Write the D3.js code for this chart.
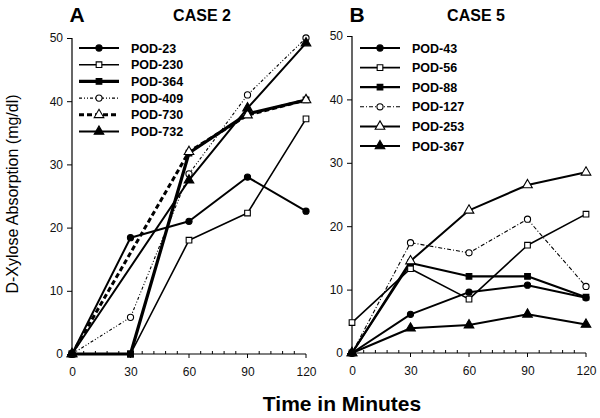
<!DOCTYPE html>
<html><head><meta charset="utf-8">
<script src="https://cdn.jsdelivr.net/npm/d3@7"></script>
<style>body{margin:0;background:#fff}svg{display:block}text{font-family:"Liberation Sans",Arial,Helvetica,sans-serif}</style>
</head><body>
<svg id="c" width="600" height="418"></svg>
<script>
const times = [0, 30, 60, 90, 120];
const yTicks = [0, 10, 20, 30, 40, 50];

// Panel A (CASE 2)
const namesA = ["POD-23", "POD-230", "POD-364", "POD-409", "POD-730", "POD-732"];
const pod23  = [0, 18.4, 21.0, 28.0, 22.6];
const pod230 = [0, 0, 18.0, 22.3, 37.2];
const pod364 = [0, 0, 31.8, 38.0, 40.2];
const pod409 = [0, 5.8, 28.5, 41.0, 50.0];
const pod730 = [0, null, 32.0, 37.8, 40.2];
const pod732 = [0, null, 27.5, 38.9, 49.2];

// Panel B (CASE 5)
const namesB = ["POD-43", "POD-56", "POD-88", "POD-127", "POD-253", "POD-367"];
const pod43  = [0, 6.1, 9.6, 10.7, 8.7];
const pod56  = [4.8, 13.3, 8.5, 17.0, 21.9];
const pod88  = [0, 14.2, 12.1, 12.1, 8.8];
const pod127 = [0, 17.4, 15.8, 21.1, 10.5];
const pod253 = [0, 14.5, 22.5, 26.5, 28.5];
const pod367 = [0, 3.9, 4.4, 6.1, 4.5];

const styleA = [
  {w:2, dash:null, m:"circle", fill:true},
  {w:1.6, dash:null, m:"square", fill:false},
  {w:3.2, dash:null, m:"square", fill:true},
  {w:1.1, dash:"3,2,1,2,1,2", m:"circle", fill:false},
  {w:3, dash:"5,3", m:"triangle", fill:false},
  {w:2, dash:null, m:"triangle", fill:true}
];
const styleB = [
  {w:2, dash:null, m:"circle", fill:true},
  {w:1.6, dash:null, m:"square", fill:false},
  {w:2.2, dash:null, m:"square", fill:true},
  {w:1.1, dash:"4,2,1,2", m:"circle", fill:false},
  {w:2, dash:null, m:"triangle", fill:false},
  {w:2, dash:null, m:"triangle", fill:true}
];

const svg = d3.select("#c");
const font = '"Liberation Sans",Arial,Helvetica,sans-serif';

function marker(g, kind, fill, x, y) {
  const sym = {circle: d3.symbolCircle, square: d3.symbolSquare, triangle: d3.symbolTriangle}[kind];
  const size = {circle: 30, square: 32, triangle: 40}[kind];
  g.append("path")
    .attr("d", d3.symbol().type(sym).size(size)())
    .attr("transform", `translate(${x},${y})`)
    .attr("fill", fill ? "#000" : "#fff")
    .attr("stroke", "#000").attr("stroke-width", 1.1);
}

function panel(cfg) {
  const x = d3.scaleLinear().domain([0, 120]).range([cfg.x0, cfg.x1]);
  const y = d3.scaleLinear().domain([0, 50]).range([cfg.y0, cfg.y1]);
  const g = svg.append("g");

  // y axis
  const ya = g.append("g").attr("transform", `translate(${cfg.x0},0)`)
    .call(d3.axisLeft(y).tickValues(yTicks).tickSize(5).tickPadding(4));
  ya.select(".domain").attr("stroke-width", 1.2).attr("d", `M-0,${cfg.y0}V${cfg.y1}`);
  ya.selectAll("text").attr("font-size", 12).attr("font-family", font).attr("fill", "#111");
  // x axis
  const xa = g.append("g").attr("transform", `translate(0,${cfg.y0})`)
    .call(d3.axisBottom(x).tickValues(times).tickSize(0).tickPadding(13));
  xa.select(".domain").attr("stroke-width", 1.2).attr("d", `M${cfg.x0},0H${cfg.x1}`);
  xa.selectAll("text").attr("font-size", 12).attr("font-family", font).attr("fill", "#111");
  // minor ticks on x axis (upward)
  const minor = d3.range(0, 121, 6);
  g.append("g").selectAll("line").data(minor).join("line")
    .attr("x1", d => x(d)).attr("x2", d => x(d))
    .attr("y1", cfg.y0).attr("y2", d => d % 30 === 0 ? cfg.y0 + 4 : cfg.y0 - 3)
    .attr("stroke", "#000").attr("stroke-width", 1);

  // titles
  g.append("text").attr("x", cfg.x0 + 5).attr("y", 22).attr("text-anchor", "middle")
    .attr("font-size", 21).attr("font-weight", "bold").text(cfg.letter);
  g.append("text").attr("x", cfg.titleX).attr("y", 21).attr("text-anchor", "middle")
    .attr("font-size", 16).attr("font-weight", "bold").text(cfg.title);

  // series
  const line = d3.line().x(d => x(d[0])).y(d => y(d[1]));
  cfg.series.forEach((vals, i) => {
    const st = cfg.styles[i];
    const pts = times.map((t, j) => [t, vals[j]]).filter(p => p[1] !== null);
    g.append("path").datum(pts).attr("d", line)
      .attr("fill", "none").attr("stroke", "#000").attr("stroke-width", st.w)
      .attr("stroke-dasharray", st.dash).attr("stroke-linejoin", "round");
  });
  cfg.series.forEach((vals, i) => {
    const st = cfg.styles[i];
    times.forEach((t, j) => {
      if (vals[j] === null) return;
      marker(g, st.m, st.fill, x(t), y(vals[j]));
    });
  });

  // legend
  cfg.names.forEach((n, i) => {
    const st = cfg.styles[i];
    const ly = cfg.legY + i * cfg.legStep;
    g.append("line").attr("x1", cfg.legX).attr("x2", cfg.legX + 40)
      .attr("y1", ly).attr("y2", ly).attr("stroke", "#000")
      .attr("stroke-width", st.w).attr("stroke-dasharray", st.dash);
    marker(g, st.m, st.fill, cfg.legX + 20, ly);
    g.append("text").attr("x", cfg.legX + 52).attr("y", ly + 4.5)
      .attr("font-size", 12.5).attr("font-weight", "bold").text(n);
  });
}

panel({x0: 72, x1: 306, y0: 354, y1: 38, letter: "A", title: "CASE 2", titleX: 202,
  names: namesA, series: [pod23, pod230, pod364, pod409, pod730, pod732], styles: styleA,
  legX: 79, legY: 48, legStep: 16.7});
panel({x0: 352, x1: 586, y0: 353, y1: 36, letter: "B", title: "CASE 5", titleX: 476,
  names: namesB, series: [pod43, pod56, pod88, pod127, pod253, pod367], styles: styleB,
  legX: 360, legY: 48, legStep: 19.6});

// shared axis labels
svg.append("text").attr("transform", "translate(18,194) rotate(-90)")
  .attr("text-anchor", "middle").attr("font-size", 16).text("D-Xylose Absorption (mg/dl)");
svg.append("text").attr("x", 342).attr("y", 411).attr("text-anchor", "middle")
  .attr("font-size", 21).attr("font-weight", "bold").text("Time in Minutes");
</script>
</body></html>
